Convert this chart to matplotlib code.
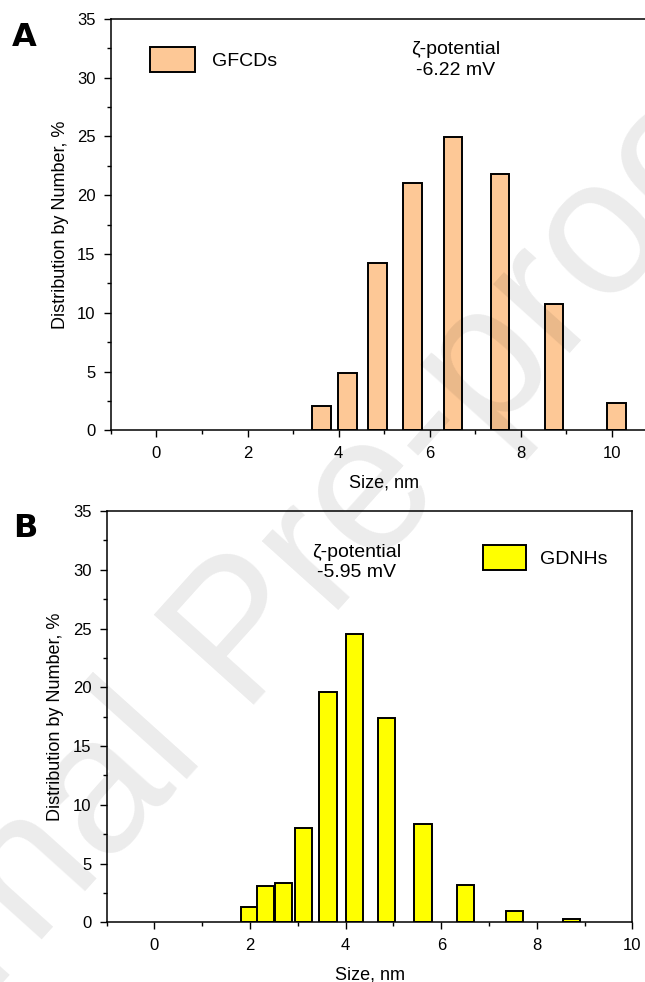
import matplotlib
matplotlib.use('Agg')
import matplotlib.pyplot as plt
from matplotlib.ticker import MultipleLocator

plt.rcParams['font.family'] = ['Liberation Sans', 'DejaVu Sans']

# panel A - GFCDs
size_a = [3.63, 4.19, 4.85, 5.62, 6.51, 7.54, 8.73, 10.1]
num_a = [2.07, 4.85, 14.24, 21.0, 24.93, 21.78, 10.72, 2.35]
# panel B - GDNHs
size_b = [1.99, 2.33, 2.70, 3.12, 3.63, 4.19, 4.85, 5.62, 6.51, 7.54, 8.73]
num_b = [1.30, 3.06, 3.37, 8.0, 19.6, 24.5, 17.41, 8.39, 3.15, 0.94, 0.26]

fig = plt.figure(figsize=(6.45, 9.82), dpi=100)
axA = fig.add_axes([0.1718, 0.5618, 0.8477, 0.4189])
axB = fig.add_axes([0.1653, 0.0608, 0.8153, 0.4188])


def style(ax, xmax):
    ax.set_xlim(-1, xmax)
    ax.set_ylim(0, 35)
    ax.xaxis.set_major_locator(MultipleLocator(2))
    ax.xaxis.set_minor_locator(MultipleLocator(1))
    ax.yaxis.set_major_locator(MultipleLocator(5))
    ax.yaxis.set_minor_locator(MultipleLocator(2.5))
    ax.tick_params(which='major', direction='out', length=5, width=1, labelsize=12, pad=6)
    ax.tick_params(which='minor', direction='out', length=3, width=1)
    for s in ax.spines.values():
        s.set_linewidth(1.1)
    ax.set_xlabel('Size, nm', fontsize=13, labelpad=10)
    ax.set_ylabel('Distribution by Number, %', fontsize=13, labelpad=6)


axA.bar(size_a, num_a, width=0.41, color='#FDC896', edgecolor='black', linewidth=1.4, label='GFCDs')
style(axA, 11)
axA.legend(loc='upper left', bbox_to_anchor=(0.04, 0.975), fontsize=14, frameon=False,
           handlelength=2.3, handleheight=1.6, handletextpad=0.9)
axA.text(0.63, 0.9, 'ζ-potential\n-6.22 mV', transform=axA.transAxes, ha='center', va='center',
         fontsize=14, linespacing=1.25)

axB.bar(size_b, num_b, width=0.36, color='#FFFF00', edgecolor='black', linewidth=1.4, label='GDNHs')
style(axB, 10)
axB.legend(loc='upper right', bbox_to_anchor=(0.985, 0.96), fontsize=14, frameon=False,
           handlelength=2.2, handleheight=1.6, handletextpad=0.7)
axB.text(0.475, 0.875, 'ζ-potential\n-5.95 mV', transform=axB.transAxes, ha='center', va='center',
         fontsize=14, linespacing=1.25)

fig.text(0.018, 0.962, 'A', fontsize=23, fontweight='bold', va='center', family='DejaVu Sans')
fig.text(0.02, 0.462, 'B', fontsize=23, fontweight='bold', va='center', family='DejaVu Sans')

# watermark
fig.text(0.38, 0.35, 'Journal Pre-proof', fontsize=140, rotation=48, color='black', alpha=0.08,
         ha='center', va='center', rotation_mode='anchor')

plt.savefig('out.png', dpi=100)
